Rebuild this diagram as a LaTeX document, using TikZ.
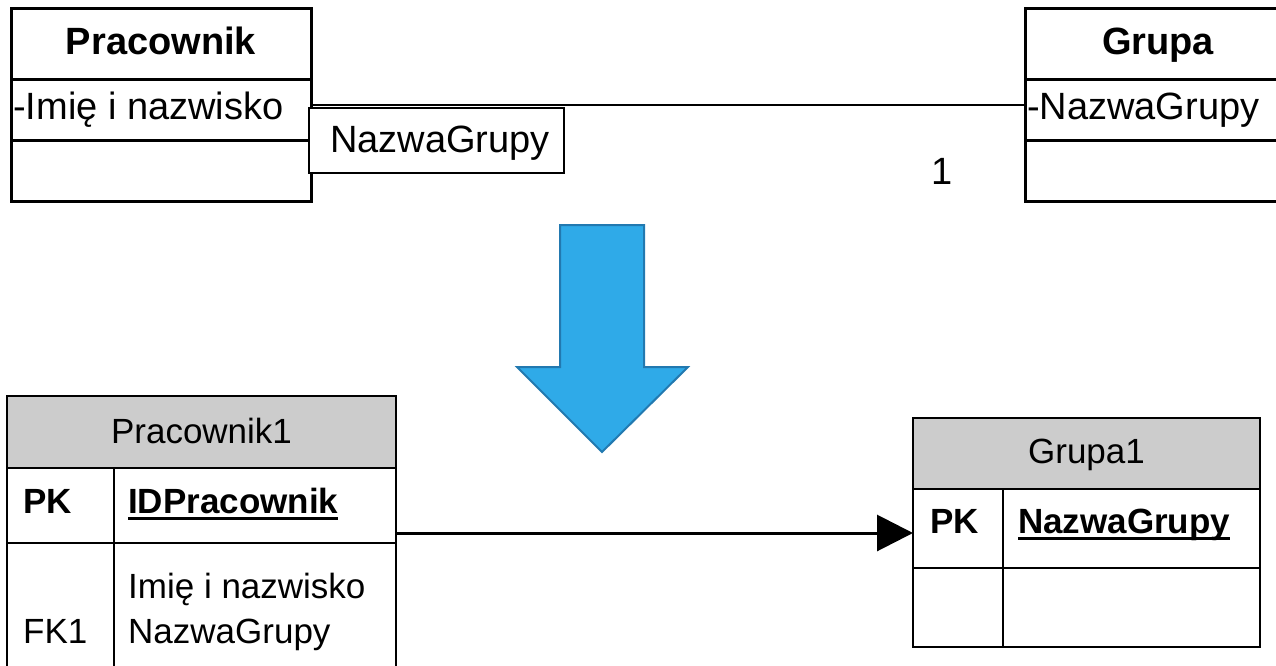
\documentclass[tikz,border=0pt]{standalone}
\usepackage{fontspec}
\setmainfont{Liberation Sans}
\usetikzlibrary{arrows.meta}
\definecolor{hdrgray}{HTML}{CCCCCC}
\definecolor{bluefill}{HTML}{2FAAE8}
\definecolor{blueedge}{HTML}{2279B0}
\newcommand\myul[1]{\setbox0\hbox{#1}\rlap{\rule[-7pt]{\wd0}{3pt}}\box0}
\begin{document}
\begin{tikzpicture}[x=1pt,y=-1pt,
  cell/.style={draw, anchor=north west, inner sep=0pt, outer sep=0pt},
  upcell/.style={cell, line width=3pt},
  lowcell/.style={cell, line width=2.5pt},
  hdr/.style={lowcell, fill=hdrgray},
  txt/.style={inner sep=0pt, anchor=base west},
  ctxt/.style={inner sep=0pt, anchor=base},
  big/.style={font=\fontsize{38}{44}\selectfont},
  bigb/.style={font=\fontsize{38}{44}\selectfont\bfseries},
  small/.style={font=\fontsize{35}{41}\selectfont},
  smallb/.style={font=\fontsize{35}{41}\selectfont\bfseries},
]
\useasboundingbox (0,0) rectangle (1276,666);
\clip (0,0) rectangle (1276,666);

% ---- UML class Pracownik
\node[upcell, minimum width=300pt, minimum height=71pt] (ptitle) at (11,9) {};
\node[upcell, minimum width=300pt, minimum height=60pt] (pattr) at (11,80) {};
\node[upcell, minimum width=300pt, minimum height=61pt] (pops) at (11,140) {};
\node[ctxt, bigb] (ptitletxt) at (161,55) {Pracownik};
\node[txt, big] (pattrtxt) at (13,120) {-Imię i nazwisko};

% ---- UML class Grupa
\node[upcell, minimum width=266pt, minimum height=71pt] (gtitle) at (1025,9) {};
\node[upcell, minimum width=266pt, minimum height=60pt] (gattr) at (1025,80) {};
\node[upcell, minimum width=266pt, minimum height=61pt] (gops) at (1025,140) {};
\node[ctxt, bigb] (gtitletxt) at (1158,55) {Grupa};
\node[txt, big] (gattrtxt) at (1027,120) {-NazwaGrupy};

% ---- association
\draw[line width=2pt] ([yshift=5pt]pattr.east) -- ([yshift=5pt]gattr.west);
\node[cell, line width=1.5pt, fill=white, minimum width=255pt, minimum height=65pt] (lbl) at (309,108) {};
\node[txt, big] (lbltxt) at (330,153) {NazwaGrupy};
\node[ctxt, big] (mult) at (942,184) {1};

% ---- blue arrow
\draw[line width=2pt, fill=bluefill, draw=blueedge, line join=miter]
  (560,225) -- (644,225) -- (644,367) -- (688,367) -- (602,452) -- (517,367) -- (560,367) -- cycle;

% ---- table Pracownik1
\node[hdr, minimum width=389pt, minimum height=72pt] (lhdr) at (7,396) {};
\node[lowcell, minimum width=107pt, minimum height=75pt] (lpkk) at (7,468) {};
\node[lowcell, minimum width=282pt, minimum height=75pt] (lpkv) at (114,468) {};
\node[lowcell, minimum width=107pt, minimum height=157pt] (lfkk) at (7,543) {};
\node[lowcell, minimum width=282pt, minimum height=157pt] (lfkv) at (114,543) {};
\node[ctxt, small] (lhdrtxt) at (201.5,443) {Pracownik1};
\node[txt, smallb] (lpkktxt) at (23,513) {PK};
\node[txt, smallb] (lpkvtxt) at (128,513) {\myul{IDPracownik}};
\node[txt, small] (lfkv1) at (128,598) {Imię i nazwisko};
\node[txt, small] (lfkv2) at (128,643) {NazwaGrupy};
\node[txt, small] (lfkktxt) at (23,643) {FK1};

% ---- table Grupa1
\node[hdr, minimum width=347pt, minimum height=71pt] (rhdr) at (913,418) {};
\node[lowcell, minimum width=90pt, minimum height=79pt] (rpkk) at (913,489) {};
\node[lowcell, minimum width=257pt, minimum height=79pt] (rpkv) at (1003,489) {};
\node[lowcell, minimum width=90pt, minimum height=79pt] (rek) at (913,568) {};
\node[lowcell, minimum width=257pt, minimum height=79pt] (rev) at (1003,568) {};
\node[ctxt, small] (rhdrtxt) at (1086.5,463) {Grupa1};
\node[txt, smallb] (rpkktxt) at (930,533) {PK};
\node[txt, smallb] (rpkvtxt) at (1018,533) {\myul{NazwaGrupy}};

% ---- foreign key arrow
\coordinate (tip) at ([yshift=-4.5pt]rpkk.west);
\draw[line width=3pt, -{Triangle[length=36pt,width=36pt]}] (lpkv.east |- tip) -- (tip);
\end{tikzpicture}
\end{document}
